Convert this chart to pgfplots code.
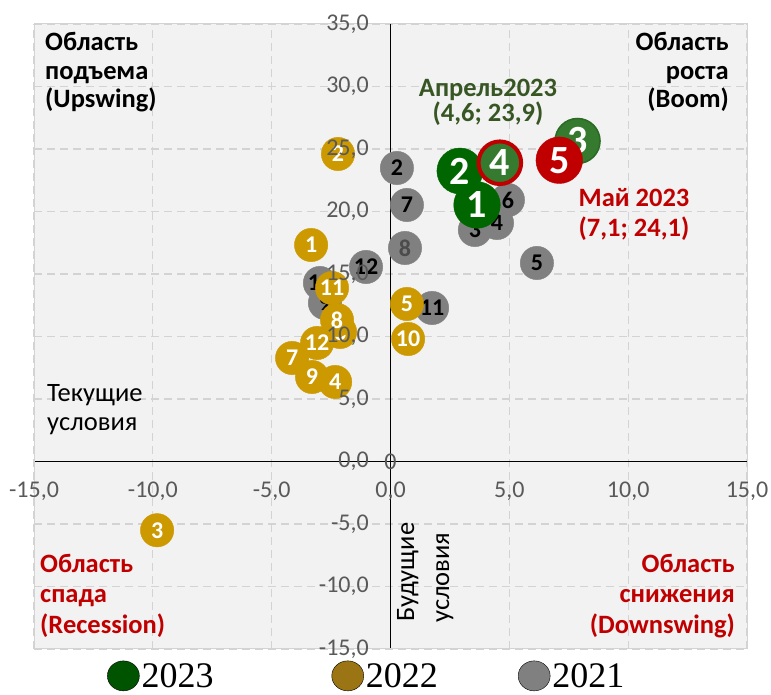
\documentclass[border=0pt]{standalone}
\usepackage{pgfplots}
\usepackage{pgfplotstable}
\pgfplotsset{compat=1.18}
\usepackage{fontspec}
\setmainfont{Carlito}
\newfontfamily\legfont{Liberation Serif}
\definecolor{bg}{HTML}{F2F2F2}
\definecolor{gridc}{HTML}{D3D3D3}
\definecolor{tickc}{HTML}{595959}
\definecolor{gA}{HTML}{006600}
\definecolor{gB}{HTML}{357A2E}
\definecolor{gBd}{HTML}{2A6A24}
\definecolor{redc}{HTML}{C00000}
\definecolor{yel}{HTML}{CC9900}
\definecolor{gry}{HTML}{808080}
\definecolor{aprc}{HTML}{375623}
\definecolor{leg23}{HTML}{005400}
\definecolor{leg22}{HTML}{9B7413}
\definecolor{leg21}{HTML}{808080}
\newcommand\fbig{\bfseries\fontsize{40}{44}\selectfont}
\newcommand\fsmall{\bfseries\fontsize{24}{28}\selectfont}
\newcommand\fregion{\bfseries\fontsize{26.5}{30}\selectfont}
\newcommand\fregular{\fontsize{26.5}{30}\selectfont}
\newcommand\ftick{\fontsize{24}{28}\selectfont}

\pgfplotstableread{
x y lab
0.27 23.48 2
3.55 18.52 3
4.48 19.08 4
6.16 15.88 5
4.94 20.92 6
0.69 20.52 7
-2.76 12.68 9
-2.97 14.28 10
1.75 12.28 11
-1.03 15.56 12
}\grayA
\pgfplotstableread{
x y lab
0.61 17.08 8
}\grayB
\pgfplotstableread{
x y lab
-3.34 17.32 1
-2.21 24.60 2
-9.82 -5.50 3
-2.33 6.36 4
0.69 12.60 5
-2.12 10.36 6
-4.14 8.28 7
-2.25 11.32 8
-3.30 6.76 9
0.74 9.80 10
-2.46 13.88 11
-3.09 9.48 12
}\yellowT

\begin{document}
\begin{tikzpicture}
\path[use as bounding box] (0pt,0pt) rectangle (771pt,695pt);
\begin{axis}[
  at={(34pt,46pt)}, anchor=south west,
  width=713pt, height=625pt, scale only axis,
  xmin=-15, xmax=15, ymin=-15, ymax=35,
  axis lines=middle,
  axis line style={-, black, line width=1.5pt},
  xtick={-15,-10,...,15}, ytick={-15,-10,...,35},
  xticklabels={}, yticklabels={},
  major tick length=0pt,
  hide obscured x ticks=false, hide obscured y ticks=false,
  grid=major,
  major grid style={gridc, line width=1.2pt, dash pattern=on 8pt off 5pt},
  axis background/.style={fill=bg},
  extra description/.code={\draw[gridc, line width=1pt] (0,0) rectangle (1,1);},
  clip=false,
  legend columns=3,
  legend style={at={(axis cs:-11.93,-17.15)}, anchor=west, draw=none, fill=none,
    inner sep=0pt, font=\legfont\fontsize{36}{40}\selectfont,
    /tikz/every even column/.append style={column sep=4pt},
    cells={anchor=west}, nodes={inner sep=2pt}},
  legend image code/.code={\fill[#1] (16pt,0pt) ellipse (16pt and 15pt);},
]
% 2021 (grey)
\addplot[color=gry, only marks, mark=*, mark size=16.7pt, mark options={fill=gry, draw=gry},
  point meta=explicit symbolic, nodes near coords, nodes near coords align=center,
  every node near coord/.append style={anchor=center, font=\fsmall, text=black},
  forget plot] table[x=x, y=y, meta=lab] {\grayA};
\addplot[color=gry, only marks, mark=*, mark size=16.7pt, mark options={fill=gry, draw=gry},
  point meta=explicit symbolic, nodes near coords, nodes near coords align=center,
  every node near coord/.append style={anchor=center, font=\fsmall, text=black!70},
  forget plot] table[x=x, y=y, meta=lab] {\grayB};
% 2022 (yellow)
\addplot[color=yel, only marks, mark=*, mark size=16.7pt, mark options={fill=yel, draw=yel},
  point meta=explicit symbolic, nodes near coords, nodes near coords align=center,
  every node near coord/.append style={anchor=center, font=\fsmall, text=white},
  forget plot] table[x=x, y=y, meta=lab] {\yellowT};
% 2023 (green)
\addplot[color=gA, only marks, mark=*, mark size=23pt, mark options={fill=gA, draw=gA},
  nodes near coords={2}, nodes near coords align=center,
  every node near coord/.append style={anchor=center, font=\fbig, text=white},
  forget plot] coordinates {(2.92,23.24)};
\addplot[color=gA, only marks, mark=*, mark size=23.3pt, mark options={fill=gA, draw=gA},
  nodes near coords={1}, nodes near coords align=center,
  every node near coord/.append style={anchor=center, font=\fbig, text=white},
  forget plot] coordinates {(3.64,20.52)};
\addplot[color=gBd, only marks, mark=*, mark size=22.5pt, mark options={fill=gB, draw=gBd, line width=1.5pt},
  nodes near coords={3}, nodes near coords align=center,
  every node near coord/.append style={anchor=center, font=\fbig, text=white},
  forget plot] coordinates {(7.87,25.64)};
\addplot[color=redc, only marks, mark=*, mark size=21.3pt, mark options={fill=gB, draw=redc, line width=4pt},
  nodes near coords={4}, nodes near coords align=center,
  every node near coord/.append style={anchor=center, font=\fbig, text=white},
  forget plot] coordinates {(4.6,23.9)};
\addplot[color=redc, only marks, mark=*, mark size=23.3pt, mark options={fill=redc, draw=redc},
  nodes near coords={5}, nodes near coords align=center,
  every node near coord/.append style={anchor=center, font=\fbig, text=white},
  forget plot] coordinates {(7.1,24.1)};
\addlegendimage{fill=leg23}
\addlegendentry{2023\hspace*{112pt}}
\addlegendimage{fill=leg22}
\addlegendentry{2022\hspace*{74pt}}
\addlegendimage{fill=leg21}
\addlegendentry{2021}
\end{axis}
% overlay axis: tick labels on top
\begin{axis}[
  at={(34pt,46pt)}, anchor=south west,
  width=713pt, height=625pt, scale only axis,
  xmin=-15, xmax=15, ymin=-15, ymax=35,
  axis lines=middle,
  axis line style={draw=none},
  major tick length=0pt,
  hide obscured x ticks=false, hide obscured y ticks=false,
  xtick={-15,-10,...,15}, ytick={-15,-10,...,35},
  xticklabels={{-15,0},{-10,0},{-5,0},{0,0},{5,0},{10,0},{15,0}},
  yticklabels={{-15,0},{-10,0},{-5,0},{0,0},{5,0},{10,0},{15,0},{20,0},{25,0},{30,0},{35,0}},
  xticklabel style={font=\ftick, text=tickc, anchor=center, inner sep=0pt, yshift=-29.5pt},
  yticklabel style={font=\ftick, text=tickc, anchor=east, inner sep=0pt, xshift=-21.5pt},
  clip=false,
]
\node[font=\ftick, text=tickc, inner sep=0pt] at (axis cs:0,0) {0};
\end{axis}
% region texts
\begin{scope}[every node/.style={inner sep=0pt}]
\node[anchor=base west, font=\fregion] at (45pt,644pt) {Область};
\node[anchor=base west, font=\fregion] at (45pt,615pt) {подъема};
\node[anchor=base west, font=\fregion] at (45pt,587pt) {(Upswing)};
\node[anchor=base east, font=\fregion] at (729pt,644pt) {Область};
\node[anchor=base east, font=\fregion] at (729pt,615pt) {роста};
\node[anchor=base east, font=\fregion] at (729pt,587pt) {(Boom)};
\node[anchor=base, font=\fregion, text=aprc] at (488pt,598pt) {Апрель2023};
\node[anchor=base, font=\fregion, text=aprc] at (488pt,573pt) {(4,6; 23,9)};
\node[anchor=base, font=\fregion, text=redc] at (634pt,488pt) {Май 2023};
\node[anchor=base, font=\fregion, text=redc] at (634pt,458pt) {(7,1; 24,1)};
\node[anchor=base west, font=\fregular] at (47pt,293pt) {Текущие};
\node[anchor=base west, font=\fregular] at (47pt,264pt) {условия};
\node[anchor=base west, font=\fregular, rotate=90] at (414pt,73pt) {Будущие};
\node[anchor=base west, font=\fregular, rotate=90] at (449pt,72pt) {условия};
\node[anchor=base west, font=\fregion, text=redc] at (40pt,122pt) {Область};
\node[anchor=base west, font=\fregion, text=redc] at (40pt,92pt) {спада};
\node[anchor=base west, font=\fregion, text=redc] at (40pt,61pt) {(Recession)};
\node[anchor=base east, font=\fregion, text=redc] at (735pt,122pt) {Область};
\node[anchor=base east, font=\fregion, text=redc] at (735pt,92pt) {снижения};
\node[anchor=base east, font=\fregion, text=redc] at (735pt,61pt) {(Downswing)};
\end{scope}
\end{tikzpicture}
\end{document}
